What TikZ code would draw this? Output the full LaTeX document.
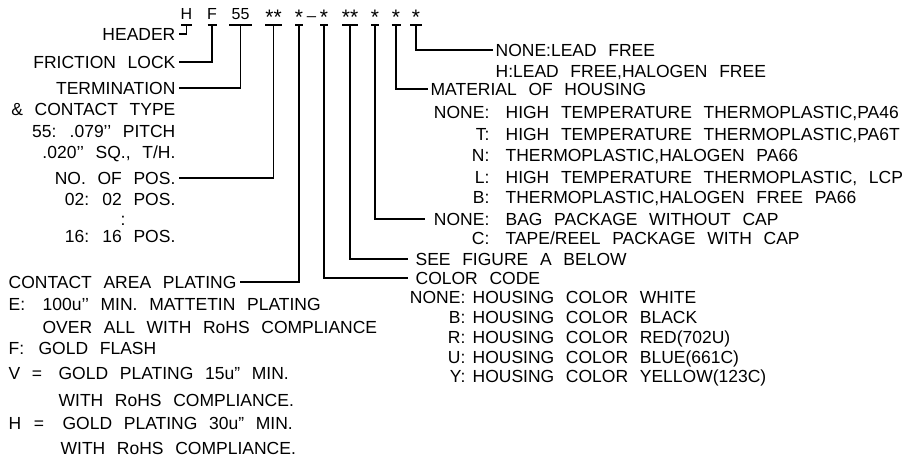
\documentclass[tikz,border=0pt]{standalone}
\usepackage{fontspec}
\newfontfamily\cad{Liberation Sans}[WordSpace=2.4]
\begin{document}
\begin{tikzpicture}[x=1pt,y=-1pt,line width=1.25pt,
  lbl/.style={font=\cad\fontsize{17.5}{19}\selectfont, inner xsep=2.5pt, inner ysep=0pt, text height=12.5pt, text depth=0pt},
  lw/.style={lbl, anchor=west},
  le/.style={lbl, anchor=east},
  code/.style={lbl, font=\cad\fontsize{16}{18}\selectfont, anchor=base, inner xsep=0pt},
  star/.style={code, font=\cad\fontsize{21}{22}\selectfont}]
\useasboundingbox (0,0) rectangle (912,459);
% part number code
\node[code] (tH) at (186.5,19) {H};
\node[code] (tF) at (212,19) {F};
\node[code] (t55) at (240.5,19) {55};
\node[star] (tN) at (273.5,24) {**};
\node[star] (tP) at (299,24) {*};
\node[code] (tU) at (311.5,14) {\_};
\node[star] (tC) at (324,24) {*};
\node[star] (tS) at (350,24) {**};
\node[star] (tB) at (375,24) {*};
\node[star] (tM) at (396,24) {*};
\node[star] (tL) at (416,24) {*};
% column tops
\coordinate (kH) at (186.5,25);
\coordinate (kF) at (212,25);
\coordinate (k55) at (240.5,25);
\coordinate (kN) at (273.5,25);
\coordinate (kP) at (299,25);
\coordinate (kC) at (324,25);
\coordinate (kS) at (350,25);
\coordinate (kB) at (375,25);
\coordinate (kM) at (396,25);
\coordinate (kL) at (416,25);
\foreach \c/\w in {kH/5.5,kF/4.5,k55/11.5,kN/8.5,kP/4,kC/4,kS/8,kB/4,kM/4.5,kL/6}
  \draw ([xshift=-\w]\c) -- ([xshift=\w]\c);
% left column
\node[le] (header) at (178.5,34) {HEADER};
\node[le] (friction) at (178.5,62) {FRICTION LOCK};
\node[le] (term) at (178.5,88) {TERMINATION};
\node[le] (contact) at (178.5,109) {\& CONTACT TYPE};
\node[le] (pitch) at (178.5,131) {55: .079’’ PITCH};
\node[le] (sq) at (178.5,152) {.020’’ SQ., T/H.};
\node[le] (nopos) at (178.5,178) {NO. OF POS.};
\node[le] (p02) at (178.5,199) {02: 02 POS.};
\node[lbl] (dots) at (123,219) {:};
\node[le] (p16) at (178.5,236) {16: 16 POS.};
% right upper
\node[lw] (leadfree) at (492.5,50) {NONE:LEAD FREE};
\node[lw] (halfree) at (492.5,71) {H:LEAD FREE,HALOGEN FREE};
\node[lw] (material) at (427.5,89) {MATERIAL OF HOUSING};
\node[le] (m0p) at (492.5,112) {NONE:};
\node[lw] (m0) at (502.5,112) {HIGH TEMPERATURE THERMOPLASTIC,PA46};
\node[le] (m1p) at (492.5,134) {T:};
\node[lw] (m1) at (502.5,134) {HIGH TEMPERATURE THERMOPLASTIC,PA6T};
\node[le] (m2p) at (492.5,155) {N:};
\node[lw] (m2) at (502.5,155) {THERMOPLASTIC,HALOGEN PA66};
\node[le] (m3p) at (492.5,177) {L:};
\node[lw] (m3) at (502.5,177) {HIGH TEMPERATURE THERMOPLASTIC, LCP};
\node[le] (m4p) at (492.5,197) {B:};
\node[lw] (m4) at (502.5,197) {THERMOPLASTIC,HALOGEN FREE PA66};
\node[le] (bagP) at (492.5,219) {NONE:};
\node[lw] (bag) at (502.5,219) {BAG PACKAGE WITHOUT CAP};
\node[le] (tapeP) at (492.5,238) {C:};
\node[lw] (tape) at (502.5,238) {TAPE/REEL PACKAGE WITH CAP};
\node[lw] (seefig) at (412.5,259) {SEE FIGURE A BELOW};
\node[lw] (colorcode) at (412.5,278) {COLOR CODE};
\node[le] (c0p) at (468.5,297) {NONE:};
\node[lw] (c0) at (469.5,297) {HOUSING COLOR WHITE};
\node[le] (c1p) at (468.5,317) {B:};
\node[lw] (c1) at (469.5,317) {HOUSING COLOR BLACK};
\node[le] (c2p) at (468.5,337) {R:};
\node[lw] (c2) at (469.5,337) {HOUSING COLOR RED(702U)};
\node[le] (c3p) at (468.5,357) {U:};
\node[lw] (c3) at (469.5,357) {HOUSING COLOR BLUE(661C)};
\node[le] (c4p) at (468.5,376) {Y:};
\node[lw] (c4) at (469.5,376) {HOUSING COLOR YELLOW(123C)};
% bottom left
\node[lw] (plating) at (5.5,282) {CONTACT AREA PLATING};
\node[lw] (eP) at (5.5,304) {E:};
\node[lw] (eD) at (39.5,304) {100u’’ MIN. MATTETIN PLATING};
\node[lw] (eD2) at (39.5,327) {OVER ALL WITH RoHS COMPLIANCE};
\node[lw] (fP) at (5.5,348) {F:};
\node[lw] (fD) at (35.5,348) {GOLD FLASH};
\node[lw] (vP) at (5.5,373) {V};
\node[lbl] (vEq) at (37,373) {=};
\node[lw] (vD) at (55.5,373) {GOLD PLATING 15u” MIN.};
\node[lw] (vD2) at (55.5,400) {WITH RoHS COMPLIANCE.};
\node[lw] (hP) at (5.5,423) {H};
\node[lbl] (hEq) at (39,423) {=};
\node[lw] (hD) at (59.5,423) {GOLD PLATING 30u” MIN.};
\node[lw] (hD2) at (57.5,448) {WITH RoHS COMPLIANCE.};
% connectors
\draw (kH) |- (header.east);
\draw (kF) |- (friction.east);
\draw (k55) |- (term.east);
\draw (kN) |- (nopos.east);
\draw (kP) |- (plating.east);
\draw[shorten >=4.5pt] (kC) |- (colorcode.west);
\draw[shorten >=4.5pt] (kS) |- (seefig.west);
\draw[shorten >=5.5pt] (kB) |- (bagP.west);
\draw (kM) |- (material.west);
\draw (kL) |- (leadfree.west);
\end{tikzpicture}
\end{document}
